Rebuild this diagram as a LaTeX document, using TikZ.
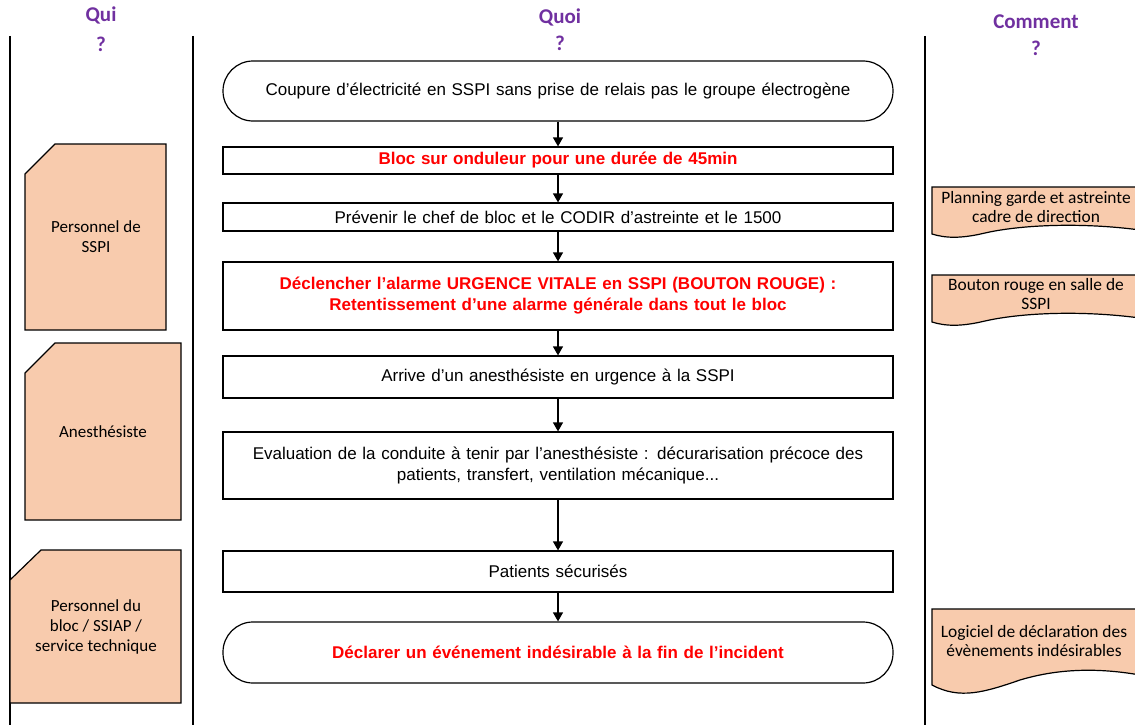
\documentclass[tikz,border=0pt]{standalone}
\usepackage{fontspec}
\setmainfont{Liberation Sans}
\newfontfamily\calib{Carlito}
\usetikzlibrary{arrows.meta}
\definecolor{hdrpurple}{RGB}{112,48,160}
\definecolor{peach}{RGB}{248,203,173}
\definecolor{alertred}{RGB}{255,0,0}
\begin{document}
\begin{tikzpicture}[x=1pt,y=-1pt,
  hdr/.style={font=\calib\bfseries\fontsize{21}{24}\selectfont, text=hdrpurple, inner sep=0pt},
  flowbox/.style={draw=black, line width=1.2pt, minimum width=670pt, text width=660pt, align=center, inner sep=0pt, font=\fontsize{17}{21}\selectfont},
  termbox/.style={flowbox, rounded corners=30pt},
  redtxt/.style={text=alertred, font=\bfseries\fontsize{17}{21}\selectfont},
  card/.style={draw=black, line width=1.2pt, fill=peach},
  cardtxt/.style={font=\calib\fontsize{17}{20}\selectfont, align=center, inner sep=0pt},
  doctxt/.style={font=\calib\fontsize{17.4}{19}\selectfont, align=center, inner sep=0pt},
  lane/.style={line width=1.2pt, black},
  flow/.style={line width=1.2pt, -{Triangle[length=9pt,width=10pt]}}
]
\useasboundingbox (0,0) rectangle (1135,725);

% headers
\node[hdr] (qui) at (101,15) {Qui};
\node[hdr] (quiq) at (101,44) {?};
\node[hdr] (quoi) at (560,17) {Quoi};
\node[hdr] (quoiq) at (560,43) {?};
\node[hdr] (comm) at (1036,22) {Comment};
\node[hdr] (commq) at (1036,48) {?};

% lanes
\coordinate (l1t) at (10,36); \coordinate (l1b) at (10,725);
\coordinate (l2t) at (193,36); \coordinate (l2b) at (193,725);
\coordinate (l3t) at (925,36); \coordinate (l3b) at (925,725);
\draw[lane] (l1t) -- (l1b);
\draw[lane] (l2t) -- (l2b);
\draw[lane] (l3t) -- (l3b);

% flow
\node[termbox, minimum height=60pt] (b1) at (558,91) {Coupure d’électricité en SSPI sans prise de relais pas le groupe électrogène};
\node[flowbox, minimum height=27pt, redtxt] (b2) at (558,160.5) {Bloc sur onduleur pour une durée de 45min};
\node[flowbox, minimum height=28pt] (b3) at (558,217) {Prévenir le chef de bloc et le CODIR d’astreinte et le 1500};
\node[flowbox, minimum height=68pt, redtxt] (b4) at (558,296) {Déclencher l’alarme URGENCE VITALE en SSPI (BOUTON ROUGE) :\\ Retentissement d’une alarme générale dans tout le bloc};
\node[flowbox, minimum height=42pt] (b5) at (558,377) {Arrive d’un anesthésiste en urgence à la SSPI};
\node[flowbox, minimum height=67pt] (b6) at (558,465.5) {Evaluation de la conduite à tenir par l’anesthésiste : décurarisation précoce des\\ patients, transfert, ventilation mécanique...};
\node[flowbox, minimum height=41pt] (b7) at (558,571.5) {Patients sécurisés};
\node[termbox, minimum height=61pt, redtxt] (b8) at (558,652.5) {Déclarer un événement indésirable à la fin de l’incident};

\draw[flow] (b1) -- (b2);
\draw[flow] (b2) -- (b3);
\draw[flow] (b3) -- (b4);
\draw[flow] (b4) -- (b5);
\draw[flow] (b5) -- (b6);
\draw[flow] (b6) -- (b7);
\draw[flow] (b7) -- (b8);

% who cards
\draw[card] (25,174) -- (55,144) -- (166,144) -- (166,330) -- (25,330) -- cycle;
\node[cardtxt] (w1) at (96,237) {Personnel de\\SSPI};
\draw[card] (25,373) -- (55,343) -- (181,343) -- (181,520) -- (25,520) -- cycle;
\node[cardtxt] (w2) at (103,432) {Anesthésiste};
\draw[card] (10,580) -- (41,550) -- (181,550) -- (181,703) -- (10,703) -- cycle;
\node[cardtxt] (w3) at (96,627) {Personnel du\\bloc / SSIAP /\\service technique};

% how documents
\draw[card] (932,187) -- (1140,187) -- (1140,230) .. controls (1080,222) and (1020,225) .. (985,233) .. controls (960,239) and (945,238) .. (932,234) -- cycle;
\node[doctxt] (h1) at (1036,207) {Planning garde et astreinte\\cadre de direction};
\draw[card] (932,275) -- (1140,275) -- (1140,318) .. controls (1080,310) and (1020,313) .. (985,321) .. controls (960,327) and (945,326) .. (932,322) -- cycle;
\node[doctxt] (h2) at (1036,294) {Bouton rouge en salle de\\SSPI};
\draw[card] (932,609) -- (1140,609) -- (1140,675) .. controls (1100,668) and (1060,668) .. (1020,680) .. controls (985,692) and (960,700) .. (932,685) -- cycle;
\node[doctxt] (h3) at (1034,641) {Logiciel de déclaration des\\évènements indésirables};
\end{tikzpicture}
\end{document}
